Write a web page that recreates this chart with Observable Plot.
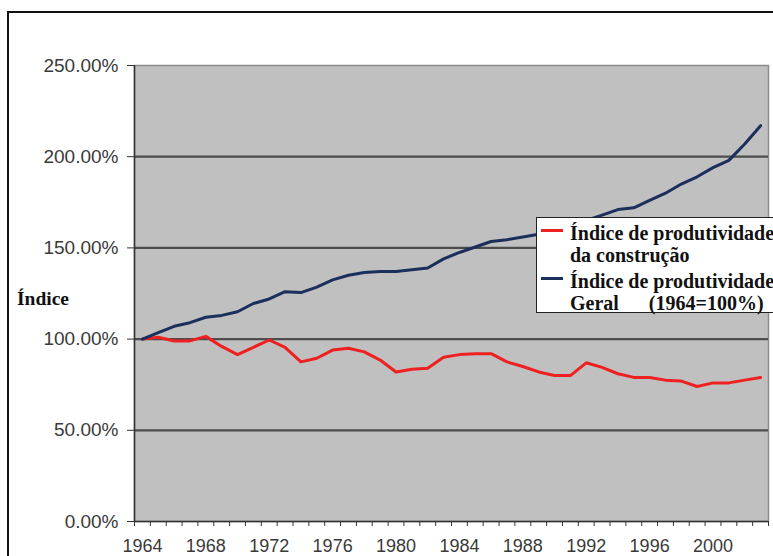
<!DOCTYPE html>
<html>
<head>
<meta charset="utf-8">
<script src="https://cdn.jsdelivr.net/npm/d3@7"></script>
<script src="https://cdn.jsdelivr.net/npm/@observablehq/plot@0.6"></script>
<style>
  html, body { margin: 0; padding: 0; background: #fff; overflow: hidden; }
  #wrap { position: relative; width: 773px; height: 556px; }
  #outer { position: absolute; left: 7px; top: 11px; width: 820px; height: 620px; border: 2px solid #111; box-sizing: border-box; pointer-events: none; }
  #chart { position: absolute; left: 0; top: 0; }
  .serif { font-family: "Liberation Serif", "Times New Roman", serif; font-weight: bold; color: #111; white-space: pre; position: absolute; line-height: 1; }
  #ytitle { left: 17px; top: 289px; font-size: 19.5px; }
  #legend { position: absolute; left: 536px; top: 217px; width: 300px; height: 96px; background: #fff; border: 1px solid #222; box-sizing: border-box; }
  #legend .serif { font-size: 20px; }
  .sw { position: absolute; left: 4px; width: 22px; height: 3px; }
</style>
</head>
<body>
<div id="wrap">
  <div id="chart"></div>
  <div id="outer"></div>
  <div id="ytitle" class="serif">Índice</div>
  <div id="legend"></div>
</div>
<script>
// Years of the series (1964 = 100%)
const years = [1964, 1965, 1966, 1967, 1968, 1969, 1970, 1971, 1972, 1973,
               1974, 1975, 1976, 1977, 1978, 1979, 1980, 1981, 1982, 1983,
               1984, 1985, 1986, 1987, 1988, 1989, 1990, 1991, 1992, 1993,
               1994, 1995, 1996, 1997, 1998, 1999, 2000, 2001, 2002, 2003];

// Índice de produtividade da construção (%)
const construcao = [100, 101, 99, 99, 101.5, 96, 91.5, 95.5, 99.5, 95.5,
                    87.5, 89.5, 94, 95, 93, 88.5, 82, 83.5, 84, 90,
                    91.5, 92, 92, 87.5, 85, 82, 80, 80, 87, 84.5,
                    81, 79, 79, 77.5, 77, 74, 76, 76, 77.5, 79];

// Índice de produtividade geral (%)
const geral = [100, 103.5, 107, 109, 112, 113, 115, 119.5, 122, 126,
               125.5, 128.5, 132.5, 135, 136.5, 137, 137, 138, 139, 144,
               147.5, 150.5, 153.5, 154.5, 156, 157.5, 159, 162, 165, 168,
               171, 172, 176, 180, 185, 189, 194, 198, 207, 217];

// Axis ticks
const yTicks = [0, 50, 100, 150, 200, 250];
const gridValues = [50, 100, 150, 200];
const labelYears = [1964, 1968, 1972, 1976, 1980, 1984, 1988, 1992, 1996, 2000];

// Series names and colours
const seriesNames = ["Índice de produtividade\nda construção", "Índice de produtividade\nGeral      (1964=100%)"];
const seriesColors = ["#ee2020", "#1b2f5c"];

const rows = [];
years.forEach((yr, i) => {
  rows.push({year: yr, value: construcao[i], serie: seriesNames[0]});
  rows.push({year: yr, value: geral[i], serie: seriesNames[1]});
});

// category boundaries: each year occupies one band between tick marks
const first = years[0], last = years[years.length - 1];
const bandEdges = years.map(y => y - 0.5).concat([last + 0.5]);

const chart = Plot.plot({
  width: 773,
  height: 556,
  marginLeft: 134,
  marginRight: 5,
  marginTop: 65,
  marginBottom: 35,
  style: {
    background: "transparent",
    fontFamily: "'Liberation Sans', Arial, sans-serif",
    fontSize: "18px",
    color: "#3a3a3a",
    overflow: "visible"
  },
  x: {domain: [first - 0.5, last + 0.5]},
  y: {domain: [0, 250]},
  color: {domain: seriesNames, range: seriesColors},
  marks: [
    Plot.frame({fill: "#c0c0c0", stroke: "#8c8c8c", strokeWidth: 1.5}),
    Plot.ruleY(gridValues, {stroke: "#4c4c4c", strokeWidth: 2.2}),
    Plot.axisY({ticks: yTicks, tickFormat: d => d.toFixed(2) + "%", tickSize: 7, tickPadding: 9, label: null, stroke: "#333", fontSize: 19}),
    Plot.axisX({ticks: bandEdges, tickFormat: () => "", tickSize: 5, label: null, stroke: "#333"}),
    Plot.axisX({ticks: labelYears, tickFormat: d => String(d), tickSize: 0, tickPadding: 18, label: null}),
    Plot.ruleX([first - 0.5], {stroke: "#333", strokeWidth: 1.5}),
    Plot.ruleY([0], {stroke: "#333", strokeWidth: 1.5}),
    Plot.line(rows, {x: "year", y: "value", z: "serie", stroke: "serie", strokeWidth: 3, strokeLinejoin: "round"})
  ]
});
document.getElementById("chart").appendChild(chart);

// Legend box
const legend = document.getElementById("legend");
const lineTops = [[5, 27], [53, 75]];
const swatchY = [11, 59];
seriesNames.forEach((name, i) => {
  const sw = document.createElement("div");
  sw.className = "sw";
  sw.style.top = swatchY[i] + "px";
  sw.style.background = seriesColors[i];
  legend.appendChild(sw);
  name.split("\n").forEach((t, j) => {
    const d = document.createElement("div");
    d.className = "serif";
    d.style.left = "33px";
    d.style.top = lineTops[i][j] + "px";
    d.textContent = t;
    legend.appendChild(d);
  });
});
</script>
</body>
</html>
